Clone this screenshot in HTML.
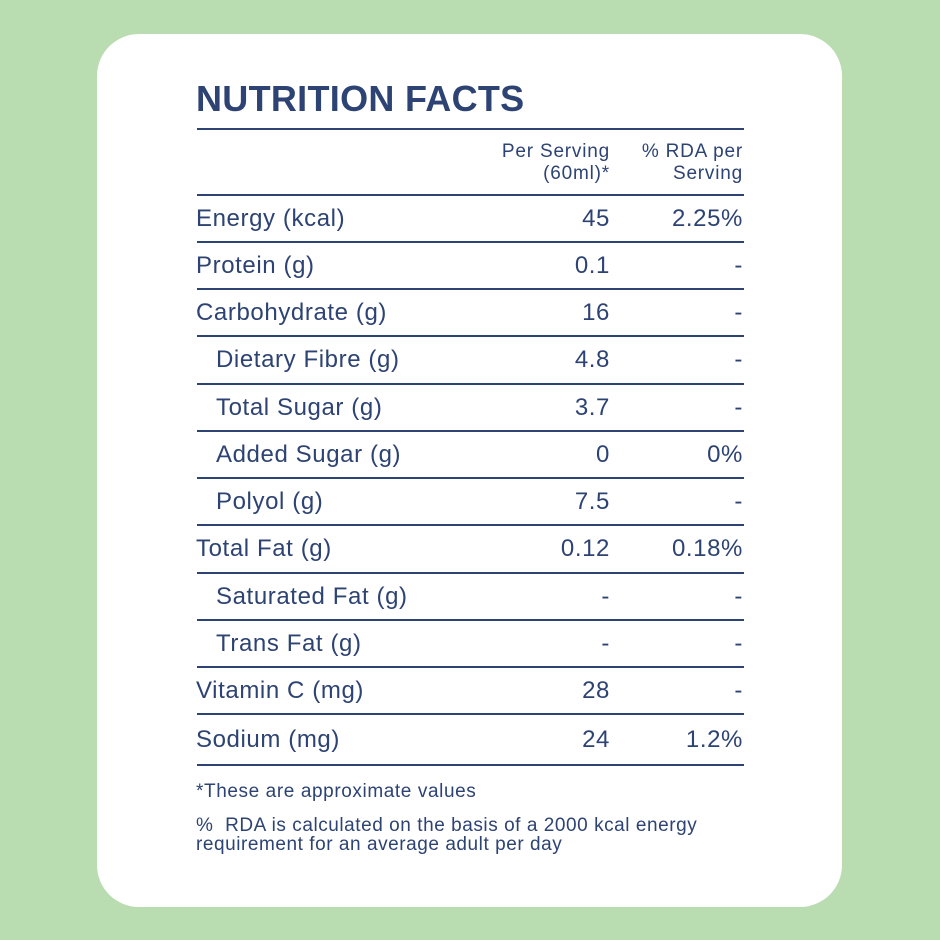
<!DOCTYPE html>
<html><head><style>
body{margin:0;width:940px;height:940px;background:#b9dcb1;position:relative;overflow:hidden;font-family:"Liberation Sans",sans-serif;color:#2d4373}
.card{position:absolute;left:97px;top:34px;width:745px;height:873px;background:#fff;border-radius:42px}
.t{position:absolute;white-space:nowrap;font-size:24px;line-height:1;letter-spacing:0.6px}
.l{position:absolute;left:197px;width:547px;height:2px;background:#2d4373}
.r1{right:330px;text-align:right}
.r2{right:197px;text-align:right}
</style></head><body>
<div class="card"></div>
<div class="t" style="left:196px;top:81px;font-size:36px;font-weight:bold;letter-spacing:0.3px">NUTRITION FACTS</div>
<div class="l" style="top:128px"></div>
<div class="t r1" style="top:141px;font-size:19px;line-height:22px;letter-spacing:0.8px">Per Serving<br>(60ml)*</div>
<div class="t r2" style="top:141px;font-size:19px;line-height:22px;letter-spacing:0.8px">% RDA per<br>Serving</div>
<div class="l" style="top:194px"></div>
<div id="rows"></div>
<script>
var rows=[["Energy (kcal)","45","2.25%",0],["Protein (g)","0.1","-",0],["Carbohydrate (g)","16","-",0],["Dietary Fibre (g)","4.8","-",1],["Total Sugar (g)","3.7","-",1],["Added Sugar (g)","0","0%",1],["Polyol (g)","7.5","-",1],["Total Fat (g)","0.12","0.18%",0],["Saturated Fat (g)","-","-",1],["Trans Fat (g)","-","-",1],["Vitamin C (mg)","28","-",0],["Sodium (mg)","24","1.2%",0]];
var lines=[195,242,289,336,384,431,478,525,573,620,667,714,765];
var h="";
for(var i=0;i<rows.length;i++){var c=(lines[i]+lines[i+1])/2-12;var r=rows[i];
h+='<div class="t" style="left:'+(r[3]?216:196)+'px;top:'+c+'px">'+r[0]+'</div>';
h+='<div class="t r1" style="top:'+c+'px">'+r[1]+'</div>';
h+='<div class="t r2" style="top:'+c+'px">'+r[2]+'</div>';
h+='<div class="l" style="top:'+(lines[i+1]-1)+'px"></div>';}
document.getElementById("rows").innerHTML=h;
</script>
<div class="t" style="left:196px;top:782px;font-size:19px;letter-spacing:0.6px">*These are approximate values</div>
<div class="t" style="left:196px;top:816px;font-size:19px;line-height:19px;letter-spacing:0.55px">%&nbsp; RDA is calculated on the basis of a 2000 kcal energy<br>requirement for an average adult per day</div>
</body></html>
